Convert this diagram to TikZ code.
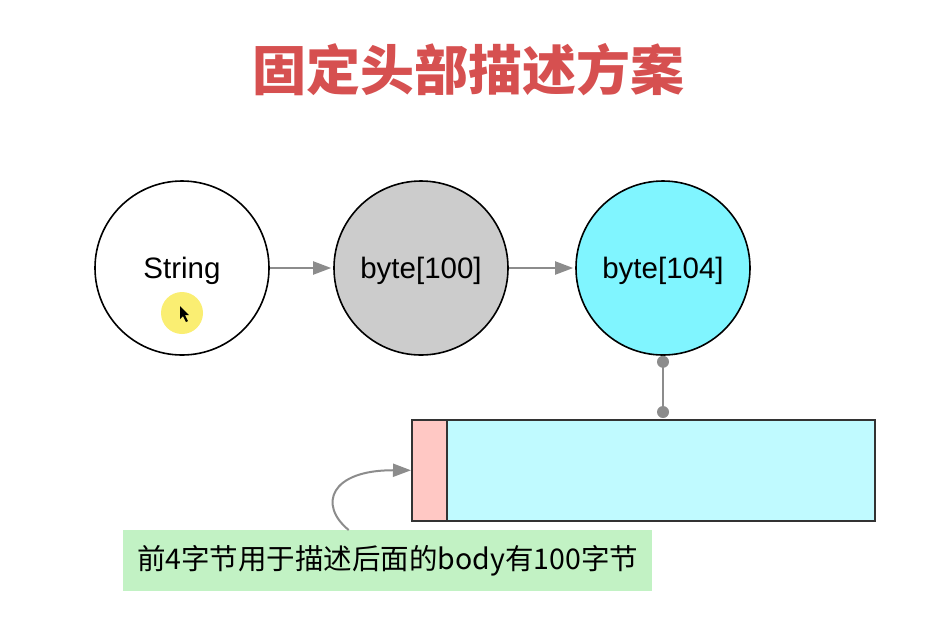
\documentclass[tikz,border=0pt]{standalone}
\usepackage{fontspec}
\setmainfont{Liberation Sans}
\newfontfamily\cjk{Noto Sans CJK SC}
\usetikzlibrary{arrows.meta}
\definecolor{titlered}{RGB}{214,80,80}
\definecolor{circgray}{RGB}{204,204,204}
\definecolor{circcyan}{RGB}{128,245,255}
\definecolor{bodycyan}{RGB}{192,250,255}
\definecolor{headpink}{RGB}{255,200,196}
\definecolor{notegreen}{RGB}{194,242,196}
\definecolor{linegray}{RGB}{140,140,140}
\definecolor{hilite}{RGB}{250,236,90}
\tikzset{
  circ/.style={circle, draw=black, line width=1.6pt, minimum size=174pt, inner sep=0pt, text depth=0pt, font=\fontsize{29.5}{32}\selectfont},
  conn/.style={draw=linegray, line width=2pt, shorten >=2pt, -{Triangle[length=18pt,width=13pt]}},
  link/.style={draw=linegray, line width=2pt},
  dot/.style={fill=linegray},
  cell/.style={draw=black!80, line width=1.6pt, minimum height=101pt, inner sep=0pt, anchor=north west},
}
\begin{document}
\begin{tikzpicture}[x=1pt,y=-1pt]
\useasboundingbox (0,0) rectangle (931,625);
\fill[white] (0,0) rectangle (931,625);
\node[text=titlered, font=\cjk\bfseries\fontsize{54}{58}\selectfont] (title) at (468,70) {固定头部描述方案};
\node[circ, fill=white] (s) at (182,268) {String};
\node[circ, fill=circgray] (b1) at (421,268) {byte[100]};
\node[circ, fill=circcyan] (b2) at (663,268) {byte[104]};
\draw[conn] (s) -- (b1);
\draw[conn] (b1) -- (b2);
\node[cell, fill=headpink, minimum width=35pt] (hd) at (411,419) {};
\node[cell, fill=bodycyan, minimum width=428pt] (body) at (446,419) {};
\coordinate (d1) at ([yshift=-6pt]b2.south);
\coordinate (d2) at ([yshift=7pt]body.north -| b2.south);
\draw[link] (d1) -- (d2);
\fill[dot] (d1) circle (6);
\fill[dot] (d2) circle (6);
\node[fill=notegreen, minimum width=529pt, minimum height=61pt, inner sep=0pt, anchor=north west, font=\cjk\fontsize{28.5}{30}\selectfont] (note) at (123,530) {前4字节用于描述后面的body有100字节};
\coordinate (ns) at ([xshift=-39pt]note.north);
\draw[conn, shorten >=0pt] (ns) .. controls (318,505) and (330,470) .. (hd.west);
\fill[hilite, opacity=0.85] (182,313) circle (21);
\fill[black] (180,306) -- (180,319) -- (183,316) -- (186,322) -- (188,321) -- (185,315) -- (189,315) -- cycle;
\end{tikzpicture}
\end{document}
